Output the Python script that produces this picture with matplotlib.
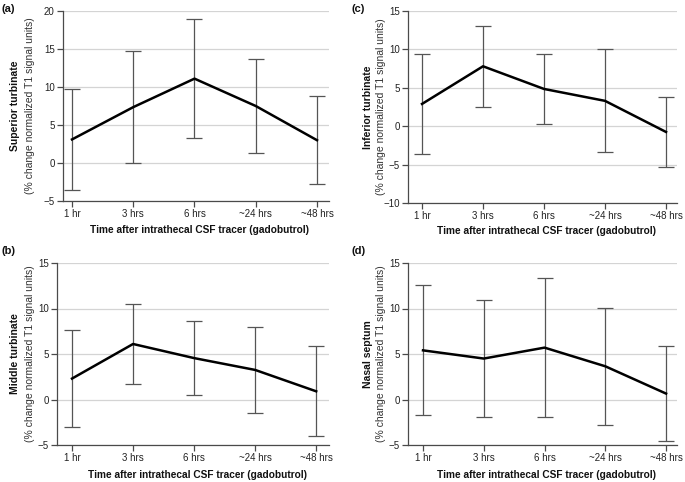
import matplotlib
matplotlib.use("Agg")
import matplotlib.pyplot as plt
import numpy as np

plt.rcParams['font.family'] = ['Liberation Sans', 'DejaVu Sans']

time_labels = ["1 hr", "3 hrs", "6 hrs", "~24 hrs", "~48 hrs"]

superior_mean = [3.1, 7.35, 11.1, 7.5, 3.0]
superior_sd = [6.7, 7.4, 7.8, 6.2, 5.8]

inferior_mean = [2.9, 7.8, 4.85, 3.3, -0.75]
inferior_sd = [6.55, 5.3, 4.6, 6.7, 4.55]

middle_mean = [2.3, 6.1, 4.55, 3.25, 0.9]
middle_sd = [5.3, 4.4, 4.05, 4.75, 4.95]

septum_mean = [5.4, 4.5, 5.7, 3.65, 0.65]
septum_sd = [7.15, 6.4, 7.6, 6.4, 5.25]

W, H = 685, 482
fig = plt.figure(figsize=(W / 100, H / 100), dpi=100)

panels = [
    ("(a)", "Superior turbinate", superior_mean, superior_sd, (63, 329, 11, 201), (-5, 20), range(-5, 21, 5), (-0.147, 4.196), (15, 30), (2, 9), 230),
    ("(c)", "Inferior turbinate", inferior_mean, inferior_sd, (408, 677, 11, 203), (-10, 15), range(-10, 16, 5), (-0.23, 4.18), (368, 381), (351, 9), 231),
    ("(b)", "Middle turbinate", middle_mean, middle_sd, (57, 329, 263, 445), (-5, 15), range(-5, 16, 5), (-0.246, 4.21), (15, 30), (2, 251), 475),
    ("(d)", "Nasal septum", septum_mean, septum_sd, (408, 677, 263, 445), (-5, 15), range(-5, 16, 5), (-0.247, 4.18), (368, 381), (351, 251), 475),
]

x = np.arange(len(time_labels))
for letter, name, mean, sd, (l, r, t, b), ylim, yticks, xlim, (ylx1, ylx2), (lx, ly), xly in panels:
    ax = fig.add_axes([l / W, 1 - b / H, (r - l) / W, (b - t) / H])
    ax.errorbar(x, mean, yerr=sd, fmt='none', ecolor='#555555', elinewidth=0.9,
                capsize=6, capthick=0.9, zorder=2)
    ax.plot(x, mean, color='black', lw=1.8, zorder=3)
    ax.set_xlim(*xlim)
    ax.set_ylim(*ylim)
    ax.set_yticks(list(yticks))
    ax.set_xticks(x)
    ax.set_xticklabels(time_labels)
    ax.yaxis.grid(True, color='#d4d4d4', lw=0.9)
    ax.set_axisbelow(True)
    for s in ['top', 'right']:
        ax.spines[s].set_visible(False)
    for s in ['left', 'bottom']:
        ax.spines[s].set_color('#4a4a4a')
        ax.spines[s].set_linewidth(0.9)
    ax.tick_params(axis='both', colors='#4a4a4a', labelcolor='#222222', labelsize=7,
                   length=4, width=0.9, pad=2)
    yc = 1 - ((t + b) / 2) / H
    fig.text(ylx1 / W, yc, name, rotation=90, ha='center', va='center',
             fontsize=7.5, fontweight='bold', color='#111111')
    fig.text(ylx2 / W, yc, "(% change normalized T1 signal units)", rotation=90,
             ha='center', va='center', fontsize=7.5, color='#333333')
    fig.text(((l + r) / 2 + 4) / W, 1 - xly / H, "Time after intrathecal CSF tracer (gadobutrol)",
             ha='center', va='center', fontsize=7.3, fontweight='bold', color='#111111')
    fig.text(lx / W, 1 - ly / H, letter, ha='left', va='center', fontsize=8,
             fontweight='bold', color='#111111')

fig.savefig("out.png", dpi=100, facecolor='white')
